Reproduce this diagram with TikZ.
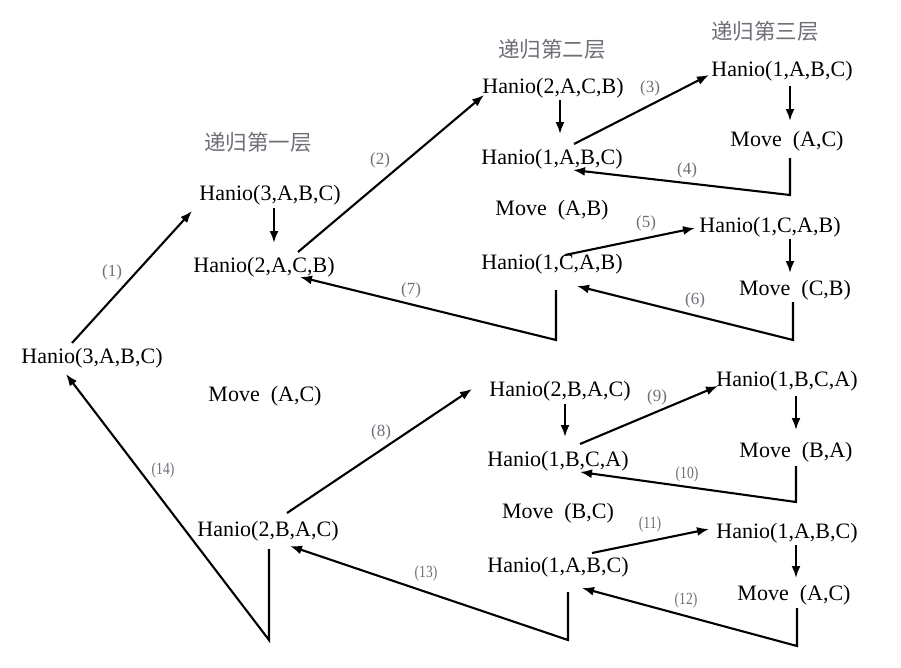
\documentclass[tikz,border=0pt]{standalone}
\usepackage{fontspec}
\setmainfont{Liberation Serif}
\newfontfamily\cjkfont{Noto Sans CJK SC}
\usetikzlibrary{arrows.meta}
\definecolor{lblgray}{RGB}{110,112,120}
\tikzset{
  txt/.style={inner sep=0pt, text height=15pt, text depth=4pt, font=\fontsize{22}{24}\selectfont},
  layer/.style={inner sep=0pt, text=lblgray, font=\cjkfont\fontsize{21.5}{24}\selectfont},
  num/.style={inner sep=0pt, text=lblgray, font=\fontsize{17}{19}\selectfont},
  arr/.style={line width=2.1pt, -{Latex[length=12pt,width=9pt]}},
  ret/.style={line width=2.1pt, line join=miter, -{Latex[length=12pt,width=9pt]}}
}
\begin{document}
\begin{tikzpicture}[x=1pt,y=-1pt]
\useasboundingbox (0,0) rectangle (901,667);
\fill[white] (0,0) rectangle (901,667);
% layer titles
\node[layer] (L1) at (258,142) {递归第一层};
\node[layer] (L2) at (552,49) {递归第二层};
\node[layer] (L3) at (765,31) {递归第三层};
% level 0/1
\node[txt] (A0) at (92,358) {Hanio(3,A,B,C)};
\node[txt] (B1) at (270,195) {Hanio(3,A,B,C)};
\node[txt] (B2) at (264,267) {Hanio(2,A,C,B)};
\node[txt] (BM) at (265,396) {Move\ \ (A,C)};
\node[txt] (B3) at (268,531) {Hanio(2,B,A,C)};
% level 2
\node[txt] (C1) at (553,88) {Hanio(2,A,C,B)};
\node[txt] (C2) at (552,159) {Hanio(1,A,B,C)};
\node[txt] (CM1) at (552,210) {Move\ \ (A,B)};
\node[txt] (C3) at (552,264) {Hanio(1,C,A,B)};
\node[txt] (C4) at (560,391) {Hanio(2,B,A,C)};
\node[txt] (C5) at (558,461) {Hanio(1,B,C,A)};
\node[txt] (CM2) at (558,513) {Move\ \ (B,C)};
\node[txt] (C6) at (558,567) {Hanio(1,A,B,C)};
% level 3
\node[txt] (D1) at (782,71) {Hanio(1,A,B,C)};
\node[txt] (DM1) at (787,141) {Move\ \ (A,C)};
\node[txt] (D2) at (770,227) {Hanio(1,C,A,B)};
\node[txt] (DM2) at (795,290) {Move\ \ (C,B)};
\node[txt] (D3) at (787,381) {Hanio(1,B,C,A)};
\node[txt] (DM3) at (796,452) {Move\ \ (B,A)};
\node[txt] (D4) at (787,533) {Hanio(1,A,B,C)};
\node[txt] (DM4) at (794,595) {Move\ \ (A,C)};
% corners
\coordinate (k4) at (790,195);
\coordinate (k6) at (793,340);
\coordinate (k7) at (556,340);
\coordinate (k10) at (796,502);
\coordinate (k12) at (797,646);
\coordinate (k13) at (568,640);
\coordinate (k14) at (269,640);
% connectors
\draw[arr] ([shift={(-20,-15)}]A0.center) -- ([shift={(-78,16)}]B1.center);
\draw[arr] ([shift={(4,13)}]B1.center) -- ([shift={(10,-24)}]B2.center);
\draw[arr] ([shift={(34,-15)}]B2.center) -- ([shift={(-69,7)}]C1.center);
\draw[ret] ([shift={(4,26)}]C3.center) -- (k7) -- ([shift={(36,10)}]B2.center);
\draw[arr] ([shift={(7,12)}]C1.center) -- ([shift={(8,-25)}]C2.center);
\draw[arr] ([shift={(22,-15)}]C2.center) -- ([shift={(-73,4)}]D1.center);
\draw[arr] ([shift={(8,15)}]D1.center) -- ([shift={(3,-20)}]DM1.center);
\draw[ret] ([shift={(3,17)}]DM1.center) -- (k4) -- ([shift={(21,11)}]C2.center);
\draw[arr] ([shift={(13,-9)}]C3.center) -- ([shift={(-75,1)}]D2.center);
\draw[arr] ([shift={(20,12)}]D2.center) -- ([shift={(-5,-17)}]DM2.center);
\draw[ret] ([shift={(-2,12)}]DM2.center) -- (k6) -- ([shift={(25,22)}]C3.center);
\draw[arr] ([shift={(19,-18)}]B3.center) -- ([shift={(-88,-2)}]C4.center);
\draw[arr] ([shift={(5,13)}]C4.center) -- ([shift={(7,-24)}]C5.center);
\draw[arr] ([shift={(22,-17)}]C5.center) -- ([shift={(-69,5)}]D3.center);
\draw[arr] ([shift={(9,15)}]D3.center) -- ([shift={(0,-22)}]DM3.center);
\draw[ret] ([shift={(0,14)}]DM3.center) -- (k10) -- ([shift={(22,11)}]C5.center);
\draw[arr] ([shift={(34,-14)}]C6.center) -- ([shift={(-78,-4)}]D4.center);
\draw[arr] ([shift={(9,12)}]D4.center) -- ([shift={(2,-17)}]DM4.center);
\draw[ret] ([shift={(3,13)}]DM4.center) -- (k12) -- ([shift={(24,21)}]C6.center);
\draw[ret] ([shift={(10,25)}]C6.center) -- (k13) -- ([shift={(22,15)}]B3.center);
\draw[ret] ([shift={(1,18)}]B3.center) -- (k14) -- ([shift={(-26,16)}]A0.center);
% step labels
\node[num] (n1) at (112,272) {(1)};
\node[num] (n2) at (380,160) {(2)};
\node[num] (n3) at (650,88) {(3)};
\node[num] (n4) at (687,170) {(4)};
\node[num] (n5) at (646,223) {(5)};
\node[num] (n6) at (695,300) {(6)};
\node[num] (n7) at (411,290) {(7)};
\node[num] (n8) at (381,432) {(8)};
\node[num] (n9) at (657,397) {(9)};
\node[num,xscale=0.8] (n10) at (687,474) {(10)};
\node[num,xscale=0.8] (n11) at (650,524) {(11)};
\node[num,xscale=0.8] (n12) at (686,600) {(12)};
\node[num,xscale=0.8] (n13) at (426,573) {(13)};
\node[num,xscale=0.8] (n14) at (163,470) {(14)};
\end{tikzpicture}
\end{document}
